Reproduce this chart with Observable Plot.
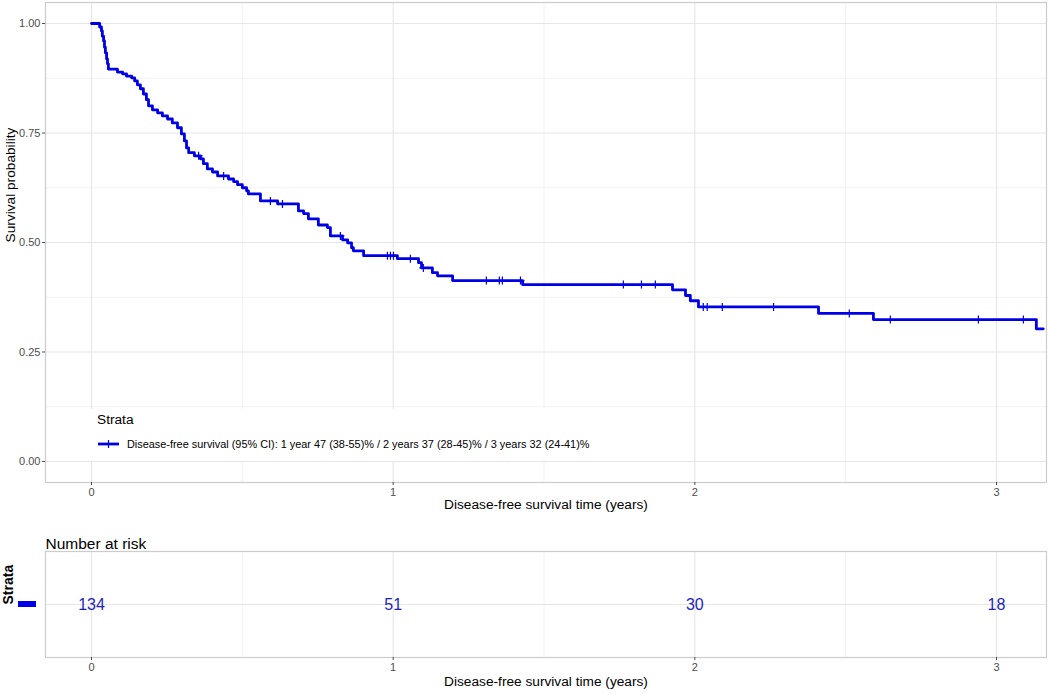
<!DOCTYPE html>
<html><head><meta charset="utf-8">
<script src="https://cdn.jsdelivr.net/npm/d3@7"></script>
<script src="https://cdn.jsdelivr.net/npm/@observablehq/plot@0.6"></script>
<style>
html,body{margin:0;padding:0;background:#fff;}
#chart{width:1050px;height:694px;position:relative;font-family:"Liberation Sans",Arial,sans-serif;}
svg{display:block;}
</style></head><body><div id="chart"></div>
<script>
// Kaplan-Meier step data (time in years, survival probability)
const stepTimes = [0,0.027,0.033,0.036,0.040,0.043,0.046,0.050,0.053,0.056,0.086,0.103,0.116,0.133,0.143,0.152,0.162,0.172,0.182,0.189,0.202,0.219,0.235,0.252,0.268,0.285,0.298,0.308,0.315,0.322,0.341,0.361,0.371,0.384,0.401,0.418,0.454,0.471,0.484,0.500,0.514,0.520,0.560,0.617,0.686,0.703,0.719,0.752,0.782,0.792,0.832,0.849,0.862,0.868,0.902,1.014,1.084,1.094,1.130,1.147,1.197,1.429,1.926,1.969,1.985,2.012,2.410,2.592,3.132,3.155];
const stepSurv  = [1.000,0.992,0.983,0.971,0.960,0.946,0.933,0.919,0.908,0.896,0.889,0.885,0.880,0.876,0.869,0.860,0.851,0.839,0.826,0.812,0.803,0.796,0.789,0.782,0.773,0.762,0.748,0.732,0.716,0.705,0.698,0.691,0.680,0.668,0.661,0.652,0.645,0.639,0.632,0.625,0.618,0.611,0.595,0.588,0.572,0.566,0.554,0.540,0.534,0.515,0.506,0.499,0.488,0.481,0.470,0.463,0.454,0.442,0.431,0.424,0.413,0.404,0.392,0.379,0.367,0.353,0.338,0.324,0.303,0.303];
// Censoring times (years)
const censorTimes = [0.355,0.438,0.593,0.633,0.825,0.981,0.991,1.001,1.057,1.100,1.309,1.352,1.362,1.422,1.763,1.823,1.869,2.028,2.041,2.091,2.261,2.512,2.648,2.940,3.089];
// Number at risk
const riskTimes = [0,1,2,3];
const riskCounts = [134,51,30,18];
// Axis ticks
const xMajor = [0,1,2,3];
const xMinor = [0.5,1.5,2.5];
const yMajor = [0,0.25,0.5,0.75,1];
const yMinor = [0.125,0.375,0.625,0.875];
const legendLabel = "Disease-free survival (95% CI): 1 year 47 (38-55)% / 2 years 37 (28-45)% / 3 years 32 (24-41)%";
const xTitle = "Disease-free survival time (years)";

const BLUE = "#0000e6";
const FONT = "Liberation Sans, Arial, sans-serif";
const X_DOMAIN = [-0.1525, 3.1657];

const curve = stepTimes.map((t, i) => ({time: t, surv: stepSurv[i]}));
const survAt = t => stepSurv[d3.bisectRight(stepTimes, t) - 1];
const censors = censorTimes.map(t => ({time: t, surv: survAt(t)}));
const risk = riskTimes.map((t, i) => ({time: t, n: riskCounts[i], strata: "Strata"}));

const tickSym = {draw(ctx, size){ const r = Math.sqrt(size/Math.PI); ctx.moveTo(0,-r); ctx.lineTo(0,r); ctx.moveTo(-r,0); ctx.lineTo(r,0);} };

const main = Plot.plot({
  width: 1050, height: 520,
  marginLeft: 45, marginRight: 4, marginTop: 2, marginBottom: 38,
  style: {fontFamily: FONT, background: "#fff", overflow: "visible"},
  x: {domain: X_DOMAIN},
  y: {domain: [-0.04795, 1.04795]},
  marks: [
    Plot.gridX(xMinor, {stroke: "#efefef", strokeOpacity: 1, strokeWidth: 0.8}),
    Plot.gridY(yMinor, {stroke: "#efefef", strokeOpacity: 1, strokeWidth: 0.8}),
    Plot.gridX(xMajor, {stroke: "#e6e6e6", strokeOpacity: 1, strokeWidth: 1.1}),
    Plot.gridY(yMajor, {stroke: "#e6e6e6", strokeOpacity: 1, strokeWidth: 1.1}),
    Plot.frame({stroke: "#cccccc", strokeWidth: 1.2}),
    Plot.axisX({ticks: xMajor, tickSize: 3, tickPadding: 3, fontSize: 11, color: "#4d4d4d", label: null, tickFormat: d3.format("d")}),
    Plot.axisY({ticks: yMajor, tickSize: 3, tickPadding: 2, fontSize: 11, color: "#4d4d4d", label: null, tickFormat: d3.format(".2f")}),
    Plot.line(curve, {x: "time", y: "surv", curve: "step-after", stroke: BLUE, strokeWidth: 2.8}),
    Plot.dot(censors, {x: "time", y: "surv", symbol: tickSym, r: 4, stroke: BLUE, strokeWidth: 1.2, fill: "none"}),
    Plot.text([xTitle], {text: d => d, frameAnchor: "bottom", dy: 26, fontSize: 13.7, fill: "#000"}),
    Plot.text(["Survival probability"], {text: d => d, frameAnchor: "left", dx: -35, rotate: -90, fontSize: 13.7, fill: "#000"})
  ]
});

// legend inside the panel
const lg = d3.select(main).append("g").attr("font-family", FONT).attr("text-anchor", "start");
lg.append("rect").attr("x", 73).attr("y", 409).attr("width", 524).attr("height", 52).attr("fill", "#fff");
lg.append("text").attr("x", 97).attr("y", 419).attr("dy", "0.35em").attr("font-size", 13.7).attr("fill", "#000").text("Strata");
lg.append("line").attr("x1", 98).attr("x2", 119).attr("y1", 444).attr("y2", 444).attr("stroke", BLUE).attr("stroke-width", 2.8);
lg.append("line").attr("x1", 108.5).attr("x2", 108.5).attr("y1", 440).attr("y2", 448).attr("stroke", BLUE).attr("stroke-width", 1.2);
lg.append("text").attr("x", 127).attr("y", 444).attr("dy", "0.35em").attr("font-size", 10.9).attr("fill", "#000").text(legendLabel);

const table = Plot.plot({
  width: 1050, height: 174,
  marginLeft: 45, marginRight: 4, marginTop: 31, marginBottom: 37,
  style: {fontFamily: FONT, background: "#fff", overflow: "visible"},
  x: {domain: X_DOMAIN},
  y: {type: "point", domain: ["Strata"], axis: null},
  marks: [
    Plot.gridX(xMinor, {stroke: "#efefef", strokeOpacity: 1, strokeWidth: 0.8}),
    Plot.gridX(xMajor, {stroke: "#e6e6e6", strokeOpacity: 1, strokeWidth: 1.1}),
    Plot.gridY(["Strata"], {stroke: "#e6e6e6", strokeOpacity: 1, strokeWidth: 1.1}),
    Plot.frame({stroke: "#cccccc", strokeWidth: 1.2}),
    Plot.axisX({ticks: xMajor, tickSize: 3, tickPadding: 3, fontSize: 11, color: "#4d4d4d", label: null, tickFormat: d3.format("d")}),
    Plot.text(risk, {x: "time", y: "strata", text: "n", fontSize: 16, fill: "#1e1ec8"}),
    Plot.text(["Number at risk"], {text: d => d, frameAnchor: "top-left", dy: -14, textAnchor: "start", fontSize: 15.5, fill: "#000"}),
    Plot.text([xTitle], {text: d => d, frameAnchor: "bottom", dy: 28, fontSize: 13.7, fill: "#000"}),
    Plot.text(["Strata"], {text: d => d, frameAnchor: "left", dx: -37, rotate: -90, fontSize: 14, fontWeight: "bold", fill: "#000"})
  ]
});
d3.select(table).append("rect").attr("x", 18).attr("y", 81).attr("width", 18).attr("height", 6).attr("fill", BLUE);

const chart = document.getElementById("chart");
chart.appendChild(main);
chart.appendChild(table);
</script></body></html>
